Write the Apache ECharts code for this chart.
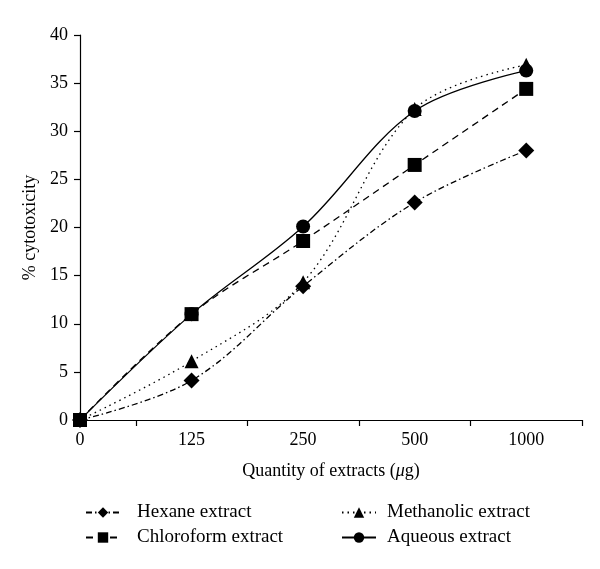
<!DOCTYPE html>
<html><head><meta charset="utf-8">
<script src="https://cdn.jsdelivr.net/npm/echarts@6/dist/echarts.min.js"></script>
<style>html,body{margin:0;padding:0;background:#fff}#c{width:600px;height:569px}</style>
</head><body><div id="c"></div>
<script>
const categories = ['0', '125', '250', '500', '1000'];
const hexane = [0, 4.1, 13.9, 22.6, 28.0];
const methanolic = [0, 6.1, 14.3, 32.3, 36.9];
const chloroform = [0, 11.0, 18.6, 26.5, 34.4];
const aqueous = [0, 11.0, 20.1, 32.1, 36.3];
const yTicks = [0, 5, 10, 15, 20, 25, 30, 35, 40];

const FONT = 'Liberation Serif';
const toPts = arr => arr.map((v, i) => [i, v]);

function mk(name, data, symbol, size, ltype) {
  return {
    name, type: 'line', data: toPts(data), smooth: 0.35,
    symbol, symbolSize: size,
    itemStyle: { color: '#000' },
    lineStyle: { color: '#000', width: 1.3, type: ltype },
    emphasis: { disabled: true }
  };
}

const chart = echarts.init(document.getElementById('c'));
chart.setOption({
  animation: false,
  backgroundColor: '#fff',
  textStyle: { fontFamily: FONT, color: '#000' },
  grid: { left: 80, right: 18, top: 35, bottom: 149 },
  xAxis: {
    type: 'value', min: 0, max: 4.5,
    name: 'Quantity of extracts ({i|μ}g)', nameLocation: 'middle', nameGap: 42,
    nameTextStyle: { fontFamily: FONT, fontSize: 18, color: '#000', rich: { i: { fontFamily: FONT, fontStyle: 'italic', fontSize: 18, color: '#000' } } },
    axisLine: { lineStyle: { color: '#000', width: 1.2 } },
    axisTick: { show: true, length: 6, inside: false, customValues: [0.5, 1.5, 2.5, 3.5, 4.5], lineStyle: { color: '#000', width: 1.2 } },
    axisLabel: { customValues: [0, 1, 2, 3, 4], formatter: v => categories[Math.round(v)], fontFamily: FONT, fontSize: 18, color: '#000', margin: 11 },
    splitLine: { show: false }
  },
  yAxis: {
    type: 'value', min: 0, max: 40, interval: 5,
    name: '% cytotoxicity', nameLocation: 'middle', nameGap: 38,
    nameTextStyle: { fontFamily: FONT, fontSize: 18, color: '#000' },
    axisLine: { show: true, lineStyle: { color: '#000', width: 1.2 } },
    axisTick: { show: true, length: 6, lineStyle: { color: '#000', width: 1.2 } },
    axisLabel: { fontFamily: FONT, fontSize: 18, color: '#000', margin: 12, formatter: v => yTicks.includes(v) ? String(v) : '' },
    splitLine: { show: false }
  },
  legend: [
    { data: ['Hexane extract', 'Chloroform extract'], orient: 'vertical', left: 80, top: 498, itemWidth: 34, itemHeight: 13, itemGap: 6,
      textStyle: { fontFamily: FONT, fontSize: 19, color: '#000', padding: [0, 0, 0, 12] }, selectedMode: false },
    { data: ['Methanolic extract', 'Aqueous extract'], orient: 'vertical', left: 336, top: 498, itemWidth: 34, itemHeight: 13, itemGap: 6,
      textStyle: { fontFamily: FONT, fontSize: 19, color: '#000', padding: [0, 0, 0, 6] }, selectedMode: false }
  ],
  series: [
    mk('Hexane extract', hexane, 'diamond', 16, [6, 3, 1.5, 3]),
    mk('Methanolic extract', methanolic, 'triangle', 14, [1.5, 4]),
    mk('Aqueous extract', aqueous, 'circle', 14, 'solid'),
    mk('Chloroform extract', chloroform, 'rect', 14, [7, 5])
  ]
});
</script></body></html>
